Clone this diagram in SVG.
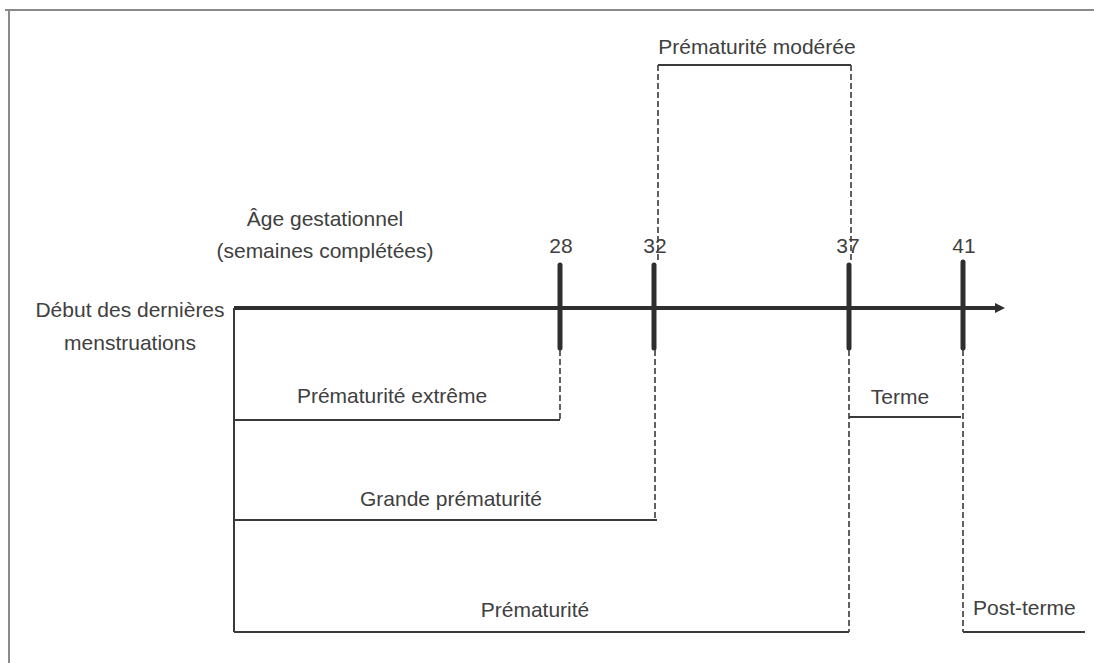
<svg xmlns="http://www.w3.org/2000/svg" width="1094" height="663" viewBox="0 0 1094 663">
<style>
text{font-family:"Liberation Sans",Arial,sans-serif;font-size:21px;fill:#404040}
.mid{text-anchor:middle}
.solid{stroke:#3a3a3a;stroke-width:2;fill:none}
.dash{stroke:#3a3a3a;stroke-width:1.6;stroke-dasharray:6 3;fill:none}
.tick{stroke:#2e2e2e;stroke-width:5;stroke-linecap:round}
.frame{stroke:#8a8a8a;stroke-width:2;fill:none}
</style>
<defs>
<marker id="arr" markerWidth="10" markerHeight="10" refX="2" refY="5" orient="auto" markerUnits="userSpaceOnUse">
<path d="M0,0 L10,5 L0,10 Z" fill="#2e2e2e"/>
</marker>
</defs>
<rect width="1094" height="663" fill="#ffffff"/>
<path class="frame" d="M5,10 H1094 M9,10 V663"/>
<g id="axis">
<line x1="234" y1="308" x2="997" y2="308" stroke="#2e2e2e" stroke-width="4" marker-end="url(#arr)"/>
<text class="mid" x="325" y="226">Âge gestationnel</text>
<text class="mid" x="325" y="258">(semaines complétées)</text>
</g>
<g id="start">
<text class="mid" x="130" y="317">Début des dernières</text>
<text class="mid" x="130" y="350">menstruations</text>
</g>
<g id="ticks">
<line class="tick" x1="560" y1="265" x2="560" y2="348"/>
<line class="tick" x1="654" y1="265" x2="654" y2="348"/>
<line class="tick" x1="849" y1="265" x2="849" y2="348"/>
<line class="tick" x1="963" y1="262" x2="963" y2="348"/>
<text class="mid" x="561" y="253">28</text>
<text class="mid" x="655" y="253">32</text>
<text class="mid" x="848" y="253">37</text>
<text class="mid" x="964" y="253">41</text>
</g>
<g id="connectors">
<path class="solid" d="M234,308 V632"/>
<path class="dash" d="M560,350 V420"/>
<path class="dash" d="M655,350 V520"/>
<path class="dash" d="M849,350 V632"/>
<path class="dash" d="M963,350 V632"/>
<path class="dash" d="M658,65 V263"/>
<path class="dash" d="M851,65 V263"/>
</g>
<g id="extreme">
<path class="solid" d="M234,420 H560"/>
<text class="mid" x="392" y="403">Prématurité extrême</text>
</g>
<g id="grande">
<path class="solid" d="M234,520 H657"/>
<text class="mid" x="451" y="506">Grande prématurité</text>
</g>
<g id="prematurite">
<path class="solid" d="M234,632 H849"/>
<text class="mid" x="535" y="617">Prématurité</text>
</g>
<g id="moderee">
<path class="solid" d="M658,65 H851"/>
<text class="mid" x="757" y="54">Prématurité modérée</text>
</g>
<g id="terme">
<path class="solid" d="M849,417 H961"/>
<text class="mid" x="900" y="404">Terme</text>
</g>
<g id="postterme">
<path class="solid" d="M963,632 H1085"/>
<text x="973" y="615">Post-terme</text>
</g>
</svg>
